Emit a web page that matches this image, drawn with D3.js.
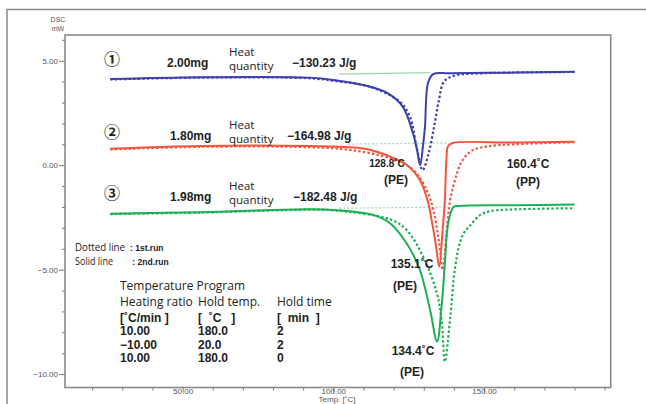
<!DOCTYPE html>
<html>
<head>
<meta charset="utf-8">
<script src="https://cdn.jsdelivr.net/npm/d3@7"></script>
<style>
  html, body { margin: 0; padding: 0; background: #fff; }
  svg { display: block; }
  text { white-space: pre; }
  .lbl { font-family: "Open Sans", "Liberation Sans", sans-serif; font-size: 12px; fill: #222; }
  .bold { font-family: "Liberation Sans", Arial, sans-serif; font-weight: bold; font-size: 12px; fill: #222; }
  .axis text { font-family: "Liberation Sans", Arial, sans-serif; font-size: 8px; fill: #555; }
  .axis line { stroke: #777; }
</style>
</head>
<body>
<div id="chart"></div>
<script>
// DSC curves, [temperature degC, heat flow mW]
// sample 1 (blue)
const s1Run2 = [[26,4.12],[56,4.21],[92,4.19],[100,4.08],[111,3.80],[118,3.45],[123,2.80],[126.4,1.54],[127.8,0.7],[128.8,0.0],[129.8,1.0],[130.4,1.84],[131.4,3.93],[133.1,4.36],[138.7,4.40],[160,4.43],[180,4.47]];
const s1Run1 = [[26,4.10],[56,4.19],[92,4.16],[100,4.04],[112,3.76],[122,3.04],[125.4,2.32],[127.6,0.89],[129.6,-0.23],[131.5,0.5],[133.5,1.9],[135,3.1],[136.7,4.0],[140,4.28],[150,4.40],[180,4.46]];
// sample 2 (red)
const s2Run2 = [[26,0.79],[56,0.92],[92,0.92],[104,0.87],[110,0.80],[115,0.62],[120,0.34],[124.3,0.02],[128.7,-0.71],[131.5,-1.81],[132.6,-2.62],[134,-3.8],[135.1,-4.86],[136.3,-3.0],[137,-1.67],[137.5,0.25],[138,0.89],[139.3,1.05],[160,1.08],[180,1.12]];
const s2Run1 = [[26,0.75],[56,0.88],[92,0.86],[105.5,0.73],[118.8,0.33],[126.5,-0.23],[131,-1.2],[133.2,-2.15],[135,-3.6],[136.3,-5.01],[137.5,-3.3],[138.7,-1.7],[139.8,-1.0],[141,-0.4],[142.3,0.1],[144,0.45],[146.3,0.72],[151,0.90],[160,1.0],[180,1.10]];
// sample 3 (green)
const s3Run2 = [[26,-2.32],[56,-2.25],[92,-2.11],[100,-2.14],[113.2,-2.38],[118.8,-2.78],[124.3,-3.74],[128.7,-5.01],[132.1,-6.93],[134.4,-8.44],[135.9,-6.77],[137,-4.68],[138.1,-2.77],[139.8,-2.01],[142,-1.95],[160,-1.92],[180,-1.88]];
const s3Run1 = [[26,-2.34],[56,-2.27],[92,-2.13],[100,-2.16],[118.8,-2.59],[124.3,-3.10],[129.8,-4.38],[134.3,-6.11],[135.9,-7.41],[137,-9.40],[138.7,-7.4],[140.3,-5.0],[142,-3.7],[143.5,-3.2],[145.3,-2.9],[148.6,-2.4],[152,-2.2],[162,-2.11],[180,-2.06]];
// integration baselines
const s1Base = [[102,4.36],[132,4.43]];
const s2Base = [[105,1.01],[137.7,1.06]];
const s3Base = [[102,-2.06],[138,-2.01]];

const xMajor = [50, 100, 150];
const xMinor = [20, 30, 40, 60, 70, 80, 90, 110, 120, 130, 140, 160, 170, 180, 190];
const yMajor = [5, 0, -5, -10];
const yMinor = [6, 4, 3, 2, 1, -1, -2, -3, -4, -6, -7, -8, -9];

const w = 646, h = 404;
const svg = d3.select("#chart").append("svg").attr("width", w).attr("height", h);

const x = d3.scaleLinear().domain([11, 192]).range([65, 610.7]);
const y = d3.scaleLinear().domain([6.23, -10.64]).range([35, 387.5]);

// outer frame
svg.append("rect").attr("x", 7).attr("y", 9.5).attr("width", 700).attr("height", 500)
   .attr("fill", "none").attr("stroke", "#888").attr("stroke-width", 1.5);

// plot box
svg.append("rect").attr("x", 65).attr("y", 35).attr("width", 545.7).attr("height", 352.5)
   .attr("fill", "#fff").attr("stroke", "#8a8a8a").attr("stroke-width", 1.6);

// axes
svg.append("g").attr("class", "axis").attr("transform", "translate(65,0)")
   .call(d3.axisLeft(y).tickValues(yMajor).tickSize(6).tickPadding(1).tickFormat(d3.format(".2f")));
svg.append("g").attr("class", "axis").attr("transform", "translate(65,0)")
   .call(d3.axisLeft(y).tickValues(yMinor).tickSize(3).tickFormat(""));
svg.append("g").attr("class", "axis").attr("transform", "translate(0,387.5)")
   .call(d3.axisBottom(x).tickValues(xMajor).tickSize(5).tickPadding(-4).tickFormat(d3.format(".2f")));
svg.append("g").attr("class", "axis").attr("transform", "translate(0,387.5)")
   .call(d3.axisBottom(x).tickValues(xMinor).tickSize(3).tickFormat(""));
svg.selectAll(".axis .domain").remove();

svg.append("text").attr("x", 58).attr("y", 22).attr("text-anchor", "middle")
   .style("font-family", "Liberation Sans").style("font-size", "7px").attr("fill", "#555").text("DSC");
svg.append("text").attr("x", 58).attr("y", 31).attr("text-anchor", "middle")
   .style("font-family", "Liberation Sans").style("font-size", "7px").attr("fill", "#555").text("mW");
svg.append("text").attr("x", 337).attr("y", 402).attr("text-anchor", "middle")
   .style("font-family", "Liberation Sans").style("font-size", "8px").attr("fill", "#555").text("Temp. [˚C]");

// curves
const line = d3.line().x(d => x(d[0])).y(d => y(d[1])).curve(d3.curveCatmullRom.alpha(0.5));
const straight = d3.line().x(d => x(d[0])).y(d => y(d[1]));

const baseCol = "#9ad9ae";
svg.append("path").attr("d", straight(s1Base)).attr("fill", "none").attr("stroke", baseCol).attr("stroke-width", 1.2);
svg.append("path").attr("d", straight(s2Base)).attr("fill", "none").attr("stroke", baseCol).attr("stroke-width", 1.2).attr("stroke-dasharray", "2,2");
svg.append("path").attr("d", straight(s3Base)).attr("fill", "none").attr("stroke", baseCol).attr("stroke-width", 1.2).attr("stroke-dasharray", "2,2");

const curves = [
  {d: s1Run1, c: "#3c41ad", dot: true}, {d: s1Run2, c: "#3c41ad", dot: false},
  {d: s2Run1, c: "#f2553c", dot: true}, {d: s2Run2, c: "#f2553c", dot: false},
  {d: s3Run1, c: "#1fae55", dot: true}, {d: s3Run2, c: "#1fae55", dot: false}
];
svg.selectAll("path.curve").data(curves).enter().append("path")
   .attr("class", "curve")
   .attr("d", d => line(d.d))
   .attr("fill", "none")
   .attr("stroke", d => d.c)
   .attr("stroke-width", d => d.dot ? 2.2 : 2)
   .attr("stroke-dasharray", d => d.dot ? "2.4,2.2" : null);

// annotations
function txt(cls, tx, ty, s, anchor) {
  return svg.append("text").attr("class", cls).attr("x", tx).attr("y", ty)
            .attr("text-anchor", anchor || "start").text(s);
}
const circ = ["①", "②", "③"];
const mass = ["2.00mg", "1.80mg", "1.98mg"];
const heat = ["−130.23 J/g", "−164.98 J/g", "−182.48 J/g"];
const rowY = [63, 136, 197];
const heatX = [292, 287, 293];
rowY.forEach((ry, i) => {
  txt("lbl", 112, ry + 1.5, circ[i], "middle").style("font-family", "Noto Sans CJK JP")
     .style("font-size", "16px").style("font-weight", "bold");
  txt("bold", [167, 170, 170][i], ry + 4, mass[i]);
  txt("lbl", 229, ry - 7, "Heat").style("font-size", "11.5px");
  txt("lbl", 229, ry + 7, "quantity").style("font-size", "11.5px");
  txt("bold", heatX[i], ry + 4, heat[i]);
});

txt("bold", 387, 166.5, "128.8˚C", "middle").style("font-size", "10px");
txt("bold", 396, 183.5, "(PE)", "middle");
txt("bold", 412, 268, "135.1˚C", "middle");
txt("bold", 405, 290, "(PE)", "middle");
txt("bold", 413, 355, "134.4˚C", "middle");
txt("bold", 412, 376, "(PE)", "middle");
txt("bold", 528, 168, "160.4˚C", "middle");
txt("bold", 528, 186, "(PP)", "middle");

txt("lbl", 75, 251, "Dotted line").style("font-size", "11px")
   .attr("textLength", 50).attr("lengthAdjust", "spacingAndGlyphs");
txt("bold", 130, 251, ": 1st.run").style("font-size", "8.5px");
txt("lbl", 75, 264.5, "Solid line").style("font-size", "11px")
   .attr("textLength", 38).attr("lengthAdjust", "spacingAndGlyphs");
txt("bold", 130, 264.5, " : 2nd.run").style("font-size", "8.5px");

txt("lbl", 120, 290, "Temperature Program");
txt("lbl", 120, 306, "Heating ratio");
txt("lbl", 198, 306, "Hold temp.");
txt("lbl", 277, 306, "Hold time");
const colRate = ["[˚C/min ]", "10.00", "−10.00", "10.00"];
const colTemp = ["[  ˚C   ]", "180.0", "20.0", "180.0"];
const colTime = ["[  min  ]", "2", "2", "0"];
colRate.forEach((s, i) => {
  const ty = 321.5 + i * 13.5;
  txt("bold", 120, ty, s);
  txt("bold", 198, ty, colTemp[i]);
  txt("bold", 277, ty, colTime[i]);
});
</script>
</body>
</html>
